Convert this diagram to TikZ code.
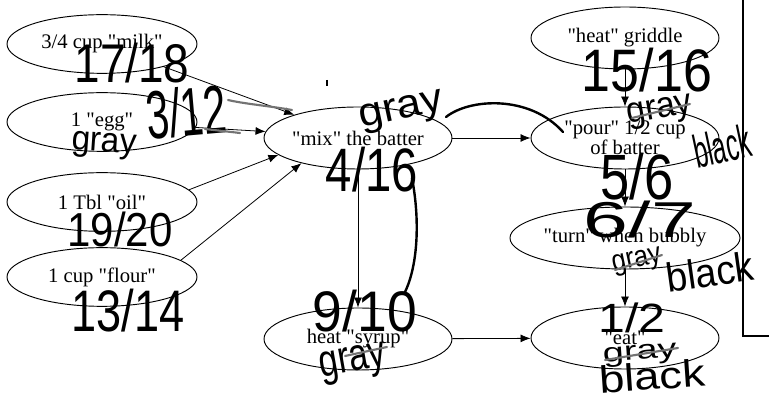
\documentclass[tikz,border=0pt]{standalone}
\usepackage{fontspec}
\setmainfont{Liberation Serif}[Ligatures=TeXOff]
\newfontfamily\handfont{Liberation Sans}[Ligatures=TeXOff]
\usetikzlibrary{shapes.geometric,arrows.meta}
\newdimen\hpx \hpx=0.75pt
\newcommand\hw[3]{\resizebox*{#1\hpx}{#2\hpx}{\handfont #3}}
\begin{document}
\begin{tikzpicture}[x=0.75pt,y=-0.75pt,
  task/.style={ellipse,draw,line width=0.7pt,minimum width=141pt,minimum height=46.5pt,inner sep=0pt,
    font=\fontsize{15.5}{15}\selectfont,align=center},
  lefttask/.style={task,minimum width=142.5pt,minimum height=44pt},
  arr/.style={-{Latex[length=7.5pt,width=6pt]},line width=0.6pt},
  hand/.style={inner sep=0pt},
  handline/.style={line width=1.8pt,line cap=round},
  pencil/.style={line width=1.6pt,line cap=round,black!55}]
\useasboundingbox (0,0) rectangle (769,402);
% printed nodes
\node[lefttask] (milk) at (102,44) {3/4 cup "milk"};
\node[lefttask] (egg) at (102,122) {1 "egg"};
\node[lefttask] (oil) at (102,202) {1 Tbl "oil"};
\node[lefttask] (flour) at (102,277) {1 cup "flour"};
\node[task] (mix) at (358,138) {"mix" the batter};
\node[task] (syrup) at (358,339) {heat "syrup"};
\node[task] (griddle) at (625,38) {"heat" griddle};
\node[task] (pour) at (625,138) {"pour" 1/2 cup\\of batter};
\node[task] (turn) at (625,238) {"turn" when bubbly};
\node[task] (eat) at (625,338) {"eat"};
% printed edges
\draw[arr] (milk) -- (mix.160);
\draw[arr] (egg) -- (mix.176);
\draw[arr] (oil.8) -- (mix.-168);
\draw[arr] (flour.12) -- (mix.-156);
\draw[arr] (mix) -- (syrup);
\draw[arr] (mix) -- (pour);
\draw[arr] (syrup) -- (eat);
\draw[arr] (griddle) -- (pour);
\draw[arr] (pour) -- (turn);
\draw[arr] (turn) -- (eat);
% frame and stray mark
\draw[line width=1.8pt] (743,0) -- (743,336) -- (769,336);
\draw[line width=1.4pt] (327,80) -- (327,86);
% handwriting
\node[hand] (h1) at (132,63) {\hw{115}{40}{17/18}};
\node[hand,rotate=5] (h2) at (186,112) {\hw{80}{50}{3/12}};
\node[hand,rotate=-4] (h3) at (104,146) {\hw{65}{26}{gray}};
\node[hand] (h4) at (120,229) {\hw{105}{35}{19/20}};
\node[hand] (h5) at (128,311) {\hw{113}{43}{13/14}};
\node[hand,rotate=12] (h6) at (402,112) {\hw{85}{30}{gray}};
\node[hand] (h7) at (372,170) {\hw{92}{45}{4/16}};
\node[hand] (h8) at (365,311) {\hw{104}{42}{9/10}};
\node[hand,rotate=10] (h9) at (353,364) {\hw{67}{34}{gray}};
\node[hand] (h10) at (647,70) {\hw{130}{44}{15/16}};
\node[hand,rotate=10] (h11) at (660,112) {\hw{66}{27}{gray}};
\node[hand,rotate=12] (h12) at (722,146) {\hw{58}{34}{black}};
\node[hand] (h13) at (637,177) {\hw{73}{47}{5/6}};
\node[hand] (h14) at (640,219) {\hw{112}{37}{6/7}};
\node[hand,rotate=12] (h15) at (637,262) {\hw{50}{22}{gray}};
\node[hand,rotate=8] (h16) at (710,272) {\hw{88}{30}{black}};
\node[hand] (h17) at (632,318) {\hw{67}{30}{1/2}};
\node[hand,rotate=4] (h18) at (640,355) {\hw{74}{20}{gray}};
\node[hand,rotate=4] (h19) at (652,376) {\hw{106}{28}{black}};
% hand-drawn connectors and cross-outs
\coordinate (c1a) at (446,117);
\coordinate (c1b) at (563,132);
\draw[handline] (c1a) .. controls (470,98) and (530,95) .. (c1b);
\coordinate (c2a) at (412,178);
\coordinate (c2b) at (405,292);
\draw[handline] (c2a) .. controls (420,220) and (418,265) .. (c2b);
\draw[pencil] (228,100) .. controls (245,104) and (270,106) .. (292,110);
\draw[pencil] (205,129) -- (240,133);
\draw[pencil] (615,270) -- (662,255);
\draw[pencil] (605,360) -- (678,348);
\draw[pencil] (632,118) -- (690,104);
\draw[pencil] (345,356) -- (387,347);
\end{tikzpicture}
\end{document}
